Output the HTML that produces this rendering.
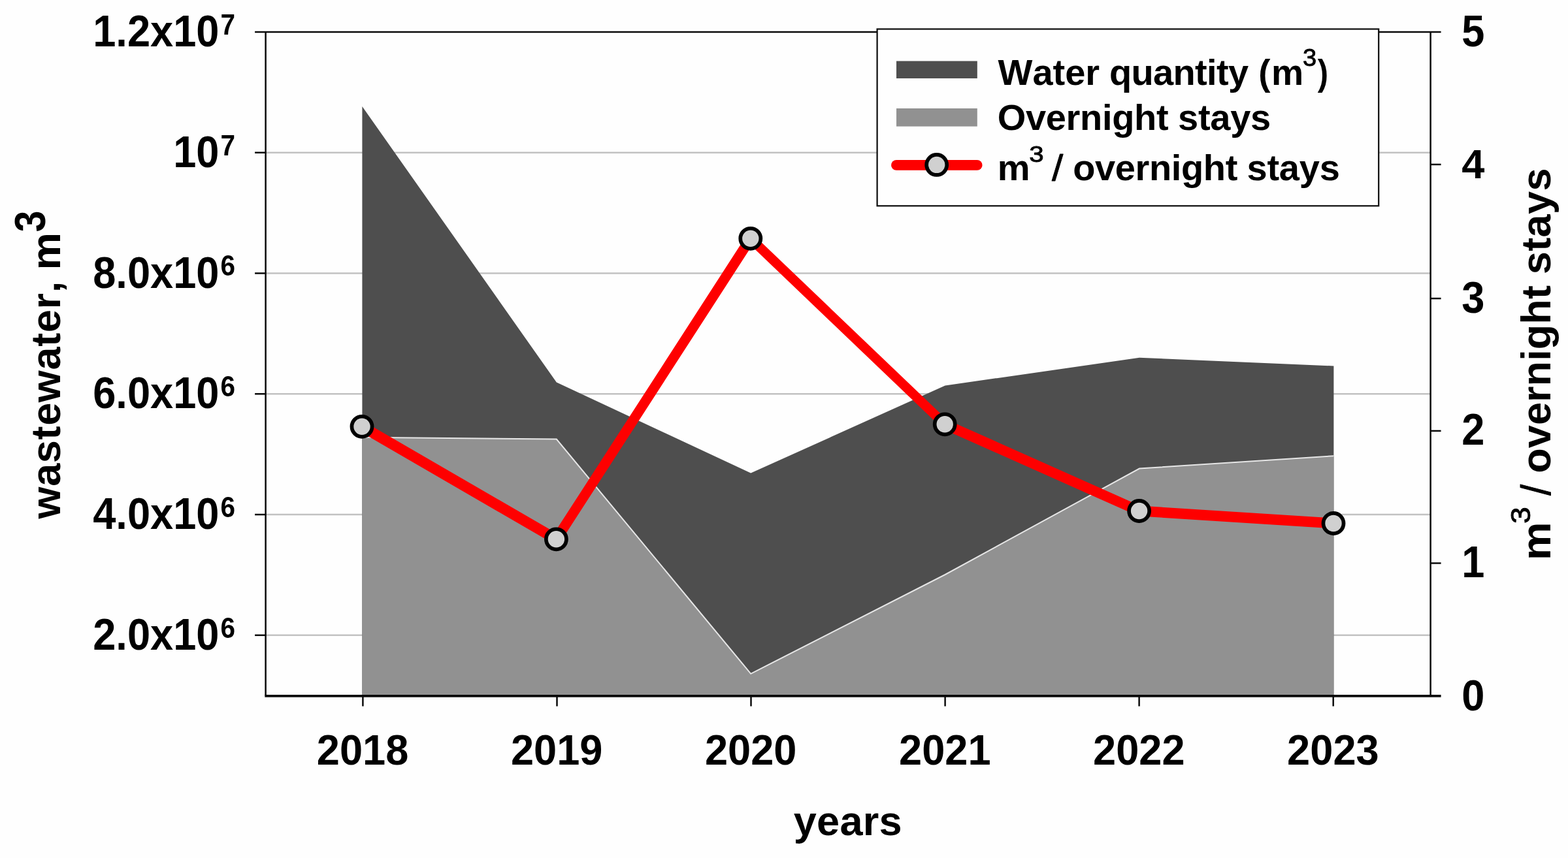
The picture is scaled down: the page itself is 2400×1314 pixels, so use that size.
<!DOCTYPE html>
<html lang="en">
<head>
<meta charset="utf-8">
<title>Wastewater and overnight stays, 2018-2023</title>
<style>
html,body{margin:0;padding:0;background:#fefefe;}
body{width:2400px;height:1314px;overflow:hidden;}
svg{display:block;}
text{font-family:"Liberation Sans",Arial,Helvetica,sans-serif;font-weight:bold;fill:#000;font-kerning:none;}
text.n{font-weight:normal;stroke:#000;stroke-width:0.9px;stroke-linejoin:round;}
</style>
</head>
<body>
<svg xmlns="http://www.w3.org/2000/svg" width="2400" height="1314" viewBox="0 0 2400 1314">
<rect x="0" y="0" width="2400" height="1314" fill="#fefefe"/>
<g stroke="#c2c2c2" stroke-width="2.4" fill="none">
<line x1="406.6" y1="972.81" x2="2189.6" y2="972.81"/>
<line x1="406.6" y1="788.04" x2="2189.6" y2="788.04"/>
<line x1="406.6" y1="603.27" x2="2189.6" y2="603.27"/>
<line x1="406.6" y1="418.50" x2="2189.6" y2="418.50"/>
<line x1="406.6" y1="233.72" x2="2189.6" y2="233.72"/>
</g>
<polygon fill="#4e4e4e" points="554.4,1065.2 554.4,163.0 851.8,585.6 1149.2,724.5 1446.6,590.5 1744.0,547.8 2041.4,560.5 2041.4,1065.2"/>
<polygon fill="#919191" points="554.4,1065.2 554.4,669.8 851.8,672.5 1149.2,1031.8 1446.6,880.0 1744.0,717.5 2041.4,698.2 2041.4,1065.2"/>
<polyline fill="none" stroke="#e6e6e6" stroke-width="2.0" stroke-linejoin="miter" points="554.4,669.8 851.8,672.5 1149.2,1031.8 1446.6,880.0 1744.0,717.5 2041.4,698.2"/>
<g stroke="#0a0a0a" fill="none" stroke-width="2.5">
<line x1="406.6" y1="48.95" x2="406.6" y2="1065.2"/>
<line x1="2189.6" y1="48.95" x2="2189.6" y2="1065.2"/>
<line x1="390.1" y1="48.95" x2="2205.6" y2="48.95"/>
<line x1="405.35" y1="1065.90" x2="2205.6" y2="1065.90" stroke-width="3.6"/>
<line x1="390.1" y1="972.81" x2="406.6" y2="972.81"/>
<line x1="390.1" y1="788.04" x2="406.6" y2="788.04"/>
<line x1="390.1" y1="603.27" x2="406.6" y2="603.27"/>
<line x1="390.1" y1="418.50" x2="406.6" y2="418.50"/>
<line x1="390.1" y1="233.72" x2="406.6" y2="233.72"/>
<line x1="2189.6" y1="862.50" x2="2205.6" y2="862.50"/>
<line x1="2189.6" y1="659.90" x2="2205.6" y2="659.90"/>
<line x1="2189.6" y1="457.10" x2="2205.6" y2="457.10"/>
<line x1="2189.6" y1="251.90" x2="2205.6" y2="251.90"/>
<line x1="555.4" y1="1065.2" x2="555.4" y2="1081.6"/>
<line x1="852.5" y1="1065.2" x2="852.5" y2="1081.6"/>
<line x1="1149.5" y1="1065.2" x2="1149.5" y2="1081.6"/>
<line x1="1446.6" y1="1065.2" x2="1446.6" y2="1081.6"/>
<line x1="1743.6" y1="1065.2" x2="1743.6" y2="1081.6"/>
<line x1="2040.7" y1="1065.2" x2="2040.7" y2="1081.6"/>
</g>
<g fill="none" stroke="#fe0000" stroke-linecap="round">
<line x1="554.0" y1="653.3" x2="851.4" y2="825.8" stroke-width="16.2"/>
<line x1="851.4" y1="825.8" x2="1148.8" y2="365.3" stroke-width="15.4"/>
<line x1="1148.8" y1="365.3" x2="1446.2" y2="649.8" stroke-width="14.5"/>
<line x1="1446.2" y1="649.8" x2="1743.6" y2="782.5" stroke-width="15.6"/>
<line x1="1743.6" y1="782.5" x2="2041.0" y2="801.5" stroke-width="16.0"/>
</g>
<g fill="#d0d0d0" stroke="#000" stroke-width="5.7">
<circle cx="554.0" cy="653.3" r="15.55"/>
<circle cx="851.4" cy="825.8" r="15.55"/>
<circle cx="1148.8" cy="365.3" r="15.55"/>
<circle cx="1446.2" cy="649.8" r="15.55"/>
<circle cx="1743.6" cy="782.5" r="15.55"/>
<circle cx="2041.0" cy="801.5" r="15.55"/>
</g>
<text transform="translate(335.50 994.81) scale(1 1.075)" font-size="63.2" text-anchor="end">2.0x10</text>
<text transform="translate(337.40 976.61) scale(1 1.09)" font-size="40.5">6</text>
<text transform="translate(335.50 810.04) scale(1 1.075)" font-size="63.2" text-anchor="end">4.0x10</text>
<text transform="translate(337.40 791.84) scale(1 1.09)" font-size="40.5">6</text>
<text transform="translate(335.50 625.27) scale(1 1.075)" font-size="63.2" text-anchor="end">6.0x10</text>
<text transform="translate(337.40 607.07) scale(1 1.09)" font-size="40.5">6</text>
<text transform="translate(335.50 440.50) scale(1 1.075)" font-size="63.2" text-anchor="end">8.0x10</text>
<text transform="translate(337.40 422.30) scale(1 1.09)" font-size="40.5">6</text>
<text transform="translate(335.50 255.72) scale(1 1.075)" font-size="63.2" text-anchor="end">10</text>
<text transform="translate(337.40 237.52) scale(1 1.09)" font-size="40.5">7</text>
<text transform="translate(335.50 70.95) scale(1 1.075)" font-size="63.2" text-anchor="end">1.2x10</text>
<text transform="translate(337.40 52.75) scale(1 1.09)" font-size="40.5">7</text>
<text transform="translate(2237.30 1087.80) scale(1 1.05)" font-size="63.2">0</text>
<text transform="translate(2237.30 883.90) scale(1 1.075)" font-size="63.2">1</text>
<text transform="translate(2237.30 681.30) scale(1 1.075)" font-size="63.2">2</text>
<text transform="translate(2237.30 478.50) scale(1 1.075)" font-size="63.2">3</text>
<text transform="translate(2237.30 273.40) scale(1 1.005)" font-size="63.2">4</text>
<text transform="translate(2237.30 70.70) scale(1 1.075)" font-size="63.2">5</text>
<text transform="translate(555.10 1171.00) scale(1 1.035)" font-size="63.2" text-anchor="middle">2018</text>
<text transform="translate(852.16 1171.00) scale(1 1.035)" font-size="63.2" text-anchor="middle">2019</text>
<text transform="translate(1149.22 1171.00) scale(1 1.035)" font-size="63.2" text-anchor="middle">2020</text>
<text transform="translate(1446.28 1171.00) scale(1 1.035)" font-size="63.2" text-anchor="middle">2021</text>
<text transform="translate(1743.34 1171.00) scale(1 1.035)" font-size="63.2" text-anchor="middle">2022</text>
<text transform="translate(2040.40 1171.00) scale(1 1.035)" font-size="63.2" text-anchor="middle">2023</text>
<text transform="translate(1214.79 1279.00)" font-size="63" letter-spacing="0.259">years</text>
<text transform="translate(92.20 794.53) rotate(-90)" font-size="63" letter-spacing="0.659">wastewater,</text>
<text transform="translate(92.20 413.60) rotate(-90) scale(1.025 1)" font-size="63">m</text>
<text transform="translate(68.90 355.25) rotate(-90) scale(0.932 1.05)" font-size="63">3</text>
<text transform="translate(2373.20 857.98) rotate(-90) scale(1.046 1)" font-size="63">m</text>
<text transform="translate(2342.00 802.12) rotate(-90) scale(1.074 1)" font-size="43" class="n">3</text>
<text transform="translate(2373.20 758.80) rotate(-90) scale(0.967 1)" font-size="63" class="n">/</text>
<text transform="translate(2373.20 724.80) rotate(-90)" font-size="63" letter-spacing="0.087">overnight</text>
<text transform="translate(2373.20 420.18) rotate(-90)" font-size="63" letter-spacing="0.391">stays</text>
<rect x="1342.6" y="44.5" width="767.6" height="270.8" fill="#fefefe" stroke="#0a0a0a" stroke-width="2.2"/>
<rect x="1372" y="93.5" width="123.8" height="26.5" fill="#4e4e4e"/>
<rect x="1372" y="166" width="123.8" height="27.6" fill="#919191"/>
<line x1="1372" y1="252.9" x2="1495.6" y2="252.9" stroke="#fe0000" stroke-width="15.8" stroke-linecap="round"/>
<circle cx="1433.7" cy="252.4" r="15.55" fill="#d0d0d0" stroke="#000" stroke-width="5.7"/>
<text transform="translate(1527.60 129.50)" font-size="56" letter-spacing="-0.025">Water</text>
<text transform="translate(1697.90 129.50)" font-size="56" letter-spacing="-0.650">quantity</text>
<text transform="translate(1926.25 129.50) scale(0.9763 1)" font-size="56">(</text>
<text transform="translate(1945.92 129.50) scale(0.9883 1)" font-size="56">m</text>
<text transform="translate(1993.98 100.90) scale(1.056 1)" font-size="36" class="n">3</text>
<text transform="translate(2016.70 129.50) scale(0.875 1)" font-size="56">)</text>
<text transform="translate(1526.70 199.40)" font-size="56" letter-spacing="-0.325">Overnight</text>
<text transform="translate(1803.00 199.40)" font-size="56" letter-spacing="-0.250">stays</text>
<text transform="translate(1526.87 275.80) scale(1.002 1)" font-size="56">m</text>
<text transform="translate(1575.25 248.00) scale(1.12 1)" font-size="36" class="n">3</text>
<text transform="translate(1610.00 275.80) scale(1.108 1)" font-size="56" class="n">/</text>
<text transform="translate(1642.20 275.80)" font-size="56" letter-spacing="-0.370">overnight</text>
<text transform="translate(1908.50 275.80)" font-size="56" letter-spacing="-0.225">stays</text>
</svg>
</body>
</html>
